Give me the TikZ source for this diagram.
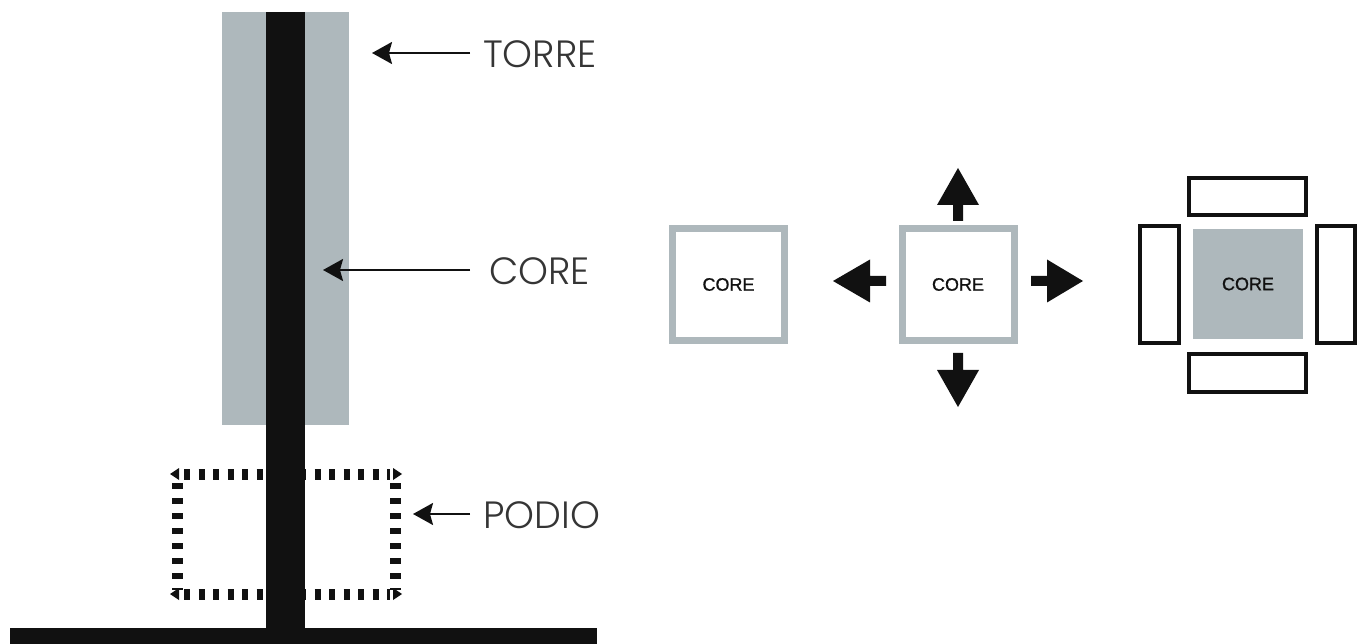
\documentclass[tikz,border=0pt]{standalone}
\usepackage{fontspec}
\setmainfont{Liberation Sans}
\newfontfamily\labelfont{Poppins}[UprightFont=* Light]
\newfontfamily\corefont{Liberation Sans}[UprightFeatures={FakeBold=0.8}]
\usetikzlibrary{arrows.meta}
\definecolor{towergray}{HTML}{AEB8BC}
\definecolor{ink}{HTML}{111111}
\begin{document}
\begin{tikzpicture}[x=1pt,y=-1pt,
  lbl/.style={font=\labelfont\fontsize{38}{40}\selectfont, text=ink!85, anchor=west, inner sep=0pt},
  pointer/.style={draw=ink, line width=2pt, -{Stealth[length=20pt,width=22pt,inset=3pt]}},
  corebox/.style={draw=towergray, line width=7pt, minimum width=112pt, minimum height=112pt, inner sep=0pt, font=\corefont\fontsize{18}{20}\selectfont, text=ink},
  corefill/.style={fill=towergray, minimum width=110pt, minimum height=110pt, inner sep=0pt, font=\corefont\fontsize{18}{20}\selectfont, text=ink},
  wing/.style={draw=ink, line width=4pt, inner sep=0pt},
  bigarrow/.style={fill=ink},
  podioline/.style={draw=ink, line width=11pt, dash pattern=on 6pt off 8.5pt}
]
\useasboundingbox (0,0) rectangle (1366,644);
% tower
\fill[towergray] (222,12) rectangle (349,425);
% podio dashed box
\draw[podioline] (184,474) -- (390,474);
\draw[podioline] (184,594) -- (390,594);
\draw[podioline, dash pattern=on 5.5pt off 9.5pt] (177,483) -- (177,590);
\draw[podioline, dash pattern=on 5.5pt off 9.5pt] (395,483) -- (395,590);
\fill[ink] (170,474) -- (179,468) -- (179,480) -- cycle;
\fill[ink] (170,594) -- (179,588) -- (179,600) -- cycle;
\fill[ink] (402,474) -- (393,468) -- (393,480) -- cycle;
\fill[ink] (402,594) -- (393,588) -- (393,600) -- cycle;
% core
\fill[ink] (266,12) rectangle (305,628);
% ground
\fill[ink] (10,628) rectangle (597,644);
% labels
\node[lbl] (torre) at (483,54) {TORRE};
\node[lbl] (corelbl) at (489,271) {CORE};
\node[lbl] (podio) at (483,515) {PODIO};
\coordinate (torretip) at (372,53);
\coordinate (coretip) at (323,270);
\coordinate (podiotip) at (413,514);
\draw[pointer] (470,53) -- (torretip);
\draw[pointer] (470,270) -- (coretip);
\draw[pointer] (470,514) -- (podiotip);
% right diagrams
\node[corebox] (c1) at (728.5,284.5) {CORE};
\node[corebox] (c2) at (958,284.5) {CORE};
\node[corefill] (c3) at (1248,284) {CORE};
% arrows around c2
\fill[bigarrow] (958,168) -- (979,205) -- (963,205) -- (963,221) -- (953,221) -- (953,205) -- (937,205) -- cycle;
\fill[bigarrow] (958,407) -- (979,370) -- (963,370) -- (963,353) -- (953,353) -- (953,370) -- (937,370) -- cycle;
\fill[bigarrow] (833,281) -- (870,259.5) -- (870,276) -- (886,276) -- (886,286) -- (870,286) -- (870,302.5) -- cycle;
\fill[bigarrow] (1083,281) -- (1047,259.5) -- (1047,276) -- (1031,276) -- (1031,286) -- (1047,286) -- (1047,302.5) -- cycle;
% wings around c3
\node[wing, minimum width=117pt, minimum height=37pt] (wtop) at (1247.5,196.5) {};
\node[wing, minimum width=117pt, minimum height=38pt] (wbot) at (1247.5,373) {};
\node[wing, minimum width=39pt, minimum height=117pt] (wleft) at (1159.5,284.5) {};
\node[wing, minimum width=38pt, minimum height=117pt] (wright) at (1336,284.5) {};
\end{tikzpicture}
\end{document}
